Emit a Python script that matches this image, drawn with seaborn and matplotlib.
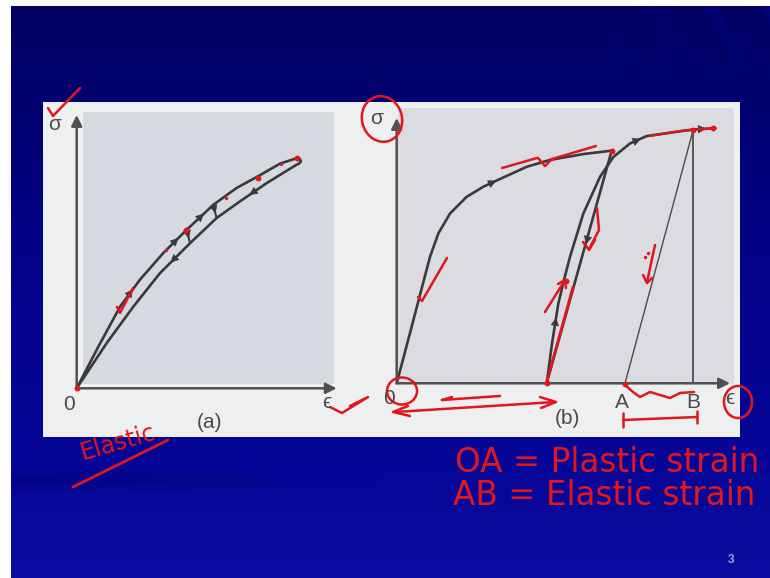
import numpy as np
import pandas as pd
import matplotlib
matplotlib.use("Agg")
import matplotlib.pyplot as plt
import seaborn as sns
from matplotlib.patches import Rectangle, Ellipse

# ---------------- data (normalised strain / stress) ----------------
# panel (a): elastic loading / unloading loop
a_load_strain = [0.0, 0.083, 0.167, 0.243, 0.333, 0.423, 0.525, 0.615, 0.692, 0.782, 0.846, 0.858, 0.862]
a_load_stress = [0.0, 0.152, 0.299, 0.397, 0.495, 0.580, 0.671, 0.733, 0.773, 0.822, 0.842, 0.840, 0.830]
a_unload_strain = [0.862, 0.855, 0.847, 0.731, 0.628, 0.538, 0.436, 0.320, 0.218, 0.115, 0.0]
a_unload_stress = [0.830, 0.822, 0.819, 0.751, 0.684, 0.623, 0.531, 0.421, 0.299, 0.165, 0.0]
a_partial_strain = [[0.525, 0.538], [0.423, 0.436]]
a_partial_stress = [[0.671, 0.623], [0.580, 0.531]]

# panel (b): plastic loading, unloading, reloading
b_load_strain = [0.0, 0.040, 0.070, 0.100, 0.125, 0.160, 0.210, 0.260, 0.320, 0.390, 0.460, 0.560, 0.645]
b_load_stress = [0.0, 0.190, 0.334, 0.477, 0.565, 0.640, 0.703, 0.741, 0.776, 0.816, 0.842, 0.864, 0.877]
b_unload_strain = [0.645, 0.450]
b_unload_stress = [0.877, 0.0]
b_reload_strain = [0.450, 0.466, 0.485, 0.502, 0.520, 0.560, 0.610, 0.650, 0.700, 0.750, 0.840, 0.890, 0.950]
b_reload_stress = [0.0, 0.150, 0.301, 0.390, 0.477, 0.640, 0.778, 0.853, 0.904, 0.932, 0.948, 0.957, 0.961]
b_elastic_strain = [0.685, 0.890]
b_elastic_stress = [0.0, 0.957]
b_vertical_strain = [0.890, 0.890]
b_vertical_stress = [0.0, 0.957]

W, H = 770, 578
RED = "#e3161b"
INK = "#3a3a3a"
LABEL = "#4a4a4a"

sns.set_theme(style="white")
plt.rcParams["font.family"] = ["Liberation Sans", "DejaVu Sans"]

fig = plt.figure(figsize=(W / 100, H / 100), dpi=100)

# ---------------- background (slide) ----------------
bg = fig.add_axes([0, 0, 1, 1], zorder=0)
bg.set_xlim(0, W)
bg.set_ylim(H, 0)
bg.axis("off")
ys = np.arange(H)[:, None]
xs = np.arange(W)[None, :]
stops_y = [0, 100, 300, 470, 578]
stops_c = np.array([[0, 0, 96], [0, 0, 112], [4, 4, 142], [6, 6, 152], [12, 12, 160]], float)
col = np.stack([np.interp(ys[:, 0], stops_y, stops_c[:, k]) for k in range(3)], axis=1)
img = np.repeat(col[:, None, :], W, axis=1)
# faint darker band at left around y=480
band = np.exp(-((ys - 480) / 8.0) ** 2) * np.clip((420 - xs) / 420, 0, 1)
img -= band[..., None] * np.array([3, 3, 22])
# faint diagonal streaks top-right
streak = (np.abs(np.sin((xs - ys * 0.55) / 18.0)) ** 8) * np.clip((xs - 600) / 170, 0, 1) * np.clip((100 - ys) / 100, 0, 1)
img += streak[..., None] * np.array([4, 4, 28])
img = np.clip(img, 0, 255) / 255.0
img[:6, :, :] = 1.0
img[:, :11, :] = 1.0
bg.imshow(img, extent=[0, W, H, 0], aspect="auto", interpolation="bilinear")

# white figure panel and grey shaded plot areas
bg.add_patch(Rectangle((43, 102), 697, 335, facecolor="#eeeff0", edgecolor="none"))
bg.add_patch(Rectangle((83, 112), 251, 272, facecolor="#d6d9df", edgecolor="none"))
bg.add_patch(Rectangle((398, 108), 336, 276, facecolor="#dadce1", edgecolor="none"))
bg.text(731, 560, "3", color="#9ea3cc", fontsize=8.5, fontweight="bold", ha="center", va="center")


def panel_axes(left, right, top, bottom):
    ax = fig.add_axes([left / W, (H - bottom) / H, (right - left) / W, (bottom - top) / H], zorder=1)
    ax.set_xlim(0, 1)
    ax.set_ylim(0, 1)
    ax.patch.set_alpha(0)
    ax.axis("off")
    for a, b in [((1.0, 0), (0, 0)), ((0, 1.0), (0, 0))]:
        ax.annotate("", xy=a, xytext=b, annotation_clip=False,
                    arrowprops=dict(arrowstyle="-|>", color="#505050", lw=1.8, mutation_scale=16,
                                    shrinkA=0, shrinkB=0))
    return ax


def curve(ax, xv, yv, lw=1.9, color=INK):
    df = pd.DataFrame({"strain": xv, "stress": yv})
    sns.lineplot(data=df, x="strain", y="stress", ax=ax, sort=False, color=color, lw=lw,
                 estimator=None, legend=False)


def head(ax, xv, yv, i, reverse=False, ms=13):
    p0 = (xv[i], yv[i])
    p1 = (xv[i + 1], yv[i + 1])
    if reverse:
        p0, p1 = p1, p0
    mx, my = (p0[0] + p1[0]) / 2, (p0[1] + p1[1]) / 2
    ax.annotate("", xy=(mx + (p1[0] - p0[0]) * 0.15, my + (p1[1] - p0[1]) * 0.15),
                xytext=(mx - (p1[0] - p0[0]) * 0.15, my - (p1[1] - p0[1]) * 0.15),
                arrowprops=dict(arrowstyle="-|>", color=INK, lw=0.5, mutation_scale=ms,
                                shrinkA=0, shrinkB=0))


# ---------------- panel (a) ----------------
axa = panel_axes(76.7, 336.7, 115, 388.3)
curve(axa, a_load_strain, a_load_stress)
curve(axa, a_unload_strain, a_unload_stress)
for xv, yv in zip(a_partial_strain, a_partial_stress):
    curve(axa, xv, yv, lw=1.5)
    head(axa, xv, yv, 0)
head(axa, a_load_strain, a_load_stress, 2)
head(axa, a_load_strain, a_load_stress, 4)
head(axa, a_load_strain, a_load_stress, 5)
head(axa, a_unload_strain, a_unload_stress, 3)
head(axa, a_unload_strain, a_unload_stress, 6)

# ---------------- panel (b) ----------------
axb = panel_axes(396.7, 730, 118, 383.3)
curve(axb, b_load_strain, b_load_stress)
curve(axb, b_unload_strain, b_unload_stress)
curve(axb, b_reload_strain, b_reload_stress)
curve(axb, b_elastic_strain, b_elastic_stress, lw=1.0, color="#4a4a4a")
curve(axb, b_vertical_strain, b_vertical_stress, lw=1.3, color="#4a4a4a")
head(axb, b_load_strain, b_load_stress, 7)
head(axb, b_reload_strain, b_reload_stress, 1)
head(axb, b_reload_strain, b_reload_stress, 8)
head(axb, b_reload_strain, b_reload_stress, 11)
head(axb, [0.645, 0.60, 0.55, 0.45], [0.877, 0.67, 0.445, 0.0], 1)

# ---------------- labels and handwriting overlay ----------------
ov = fig.add_axes([0, 0, 1, 1], zorder=2)
ov.set_xlim(0, W)
ov.set_ylim(H, 0)
ov.patch.set_alpha(0)
ov.axis("off")

lab = dict(color=LABEL, ha="center", va="center", fontsize=15)
ov.text(55, 124, "σ", **lab)
ov.text(69, 404, "0", **lab)
ov.text(327, 403, "ϵ", **lab)
ov.text(209, 423, "(a)", **lab)
ov.text(377, 119, "σ", **lab)
ov.text(389, 399, "0", **lab)
ov.text(622, 402, "A", **lab)
ov.text(693, 402, "B", **lab)
ov.text(730, 398, "ϵ", **lab)
ov.text(567, 418, "(b)", **lab)


def stroke(pts, lw=1.8):
    p = np.array(pts, float)
    ov.plot(p[:, 0], p[:, 1], color=RED, lw=lw, solid_capstyle="round", solid_joinstyle="round")


def dot(x, y, s=18):
    ov.scatter([x], [y], s=s, color=RED, zorder=5, linewidths=0)


# checks
stroke([(48, 108), (53, 116), (80, 88)])
stroke([(117, 307), (120, 313), (133, 288)])
stroke([(330, 407), (342, 413), (368, 397)])
stroke([(350, 406), (366, 398)])
stroke([(418, 297), (422, 301), (447, 258)])
# along curves
stroke([(502, 168), (537, 158)])
stroke([(538, 158), (545, 166), (552, 159)])
stroke([(552, 159), (596, 146)])
stroke([(547, 381), (573, 287)], lw=2.0)
stroke([(545, 312), (565, 280)])
stroke([(558, 284), (565, 280), (566, 288)])
stroke([(597, 208), (599, 230), (589, 249)])
stroke([(583, 242), (589, 250), (595, 240)])
stroke([(655, 245), (647, 282)])
stroke([(643, 275), (647, 283), (652, 278)])
stroke([(650, 136), (680, 131), (716, 128)], lw=1.6)
# circles
ov.add_patch(Ellipse((382, 119), 40, 46, angle=-15, fill=False, edgecolor=RED, lw=1.8))
ov.add_patch(Ellipse((402, 391), 30, 27, fill=False, edgecolor=RED, lw=1.8))
ov.add_patch(Ellipse((738, 402), 28, 32, fill=False, edgecolor=RED, lw=1.8))
# arrows under panel (b)
stroke([(395, 412), (555, 402)])
stroke([(408, 406), (393, 412), (410, 416)])
stroke([(540, 397), (556, 402), (541, 408)])
stroke([(442, 400), (500, 396)])
stroke([(442, 400), (452, 397)])
# A-B squiggle and bar
stroke([(625, 385), (633, 392), (640, 397), (650, 392), (660, 395), (670, 398), (680, 393), (694, 392)])
stroke([(623, 420), (697, 417)])
stroke([(623, 413), (623, 427)])
stroke([(697, 411), (697, 423)])
# red dots
for (x, y) in [(77, 388), (297, 158), (547, 383), (612, 151), (625, 384), (693, 130), (713, 128),
               (566, 281), (186, 230), (258, 178)]:
    dot(x, y)
for (x, y) in [(166, 250), (226, 198), (281, 164), (645, 257), (648, 253)]:
    dot(x, y, s=6)

# handwritten notes
hand = dict(color=RED, fontsize=23.5, family=["DejaVu Sans"], va="baseline", ha="left")
ov.text(455, 472, "OA = Plastic strain", **hand)
ov.text(453, 505, "AB = Elastic strain", **hand)
ov.text(83, 460, "Elastic", color=RED, fontsize=17, rotation=16, family=["DejaVu Sans"],
        ha="left", va="baseline", rotation_mode="anchor")
stroke([(73, 487), (168, 440)], lw=2.0)

fig.savefig("out.png", dpi=100)
